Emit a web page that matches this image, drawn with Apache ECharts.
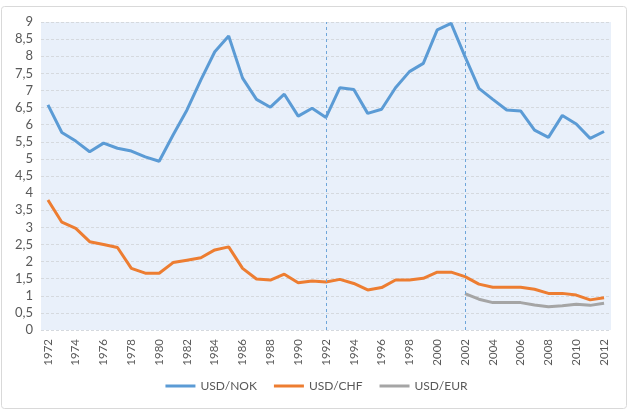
<!DOCTYPE html>
<html>
<head>
<meta charset="utf-8">
<script src="https://cdn.jsdelivr.net/npm/echarts@6/dist/echarts.min.js"></script>
<style>
html,body{margin:0;padding:0;background:#fff;}
#c{width:633px;height:410px;}
</style>
</head>
<body>
<div id="c"></div>
<script>
var years = [];
for (var y = 1972; y <= 2012; y++) years.push(String(y));

var usdNok = [6.58,5.77,5.52,5.21,5.46,5.31,5.23,5.06,4.93,5.70,6.43,7.31,8.13,8.59,7.36,6.74,6.51,6.89,6.25,6.48,6.21,7.08,7.03,6.33,6.45,7.08,7.55,7.79,8.77,8.96,7.99,7.06,6.74,6.43,6.40,5.84,5.63,6.27,6.02,5.60,5.80];
var usdChf = [3.80,3.15,2.97,2.58,2.50,2.41,1.80,1.66,1.66,1.97,2.04,2.11,2.34,2.43,1.80,1.49,1.46,1.63,1.38,1.43,1.40,1.48,1.36,1.17,1.24,1.46,1.46,1.51,1.69,1.69,1.56,1.34,1.25,1.25,1.25,1.19,1.07,1.07,1.02,0.88,0.94];
var usdEur = [null,null,null,null,null,null,null,null,null,null,null,null,null,null,null,null,null,null,null,null,null,null,null,null,null,null,null,null,null,null,1.06,0.90,0.80,0.80,0.80,0.73,0.68,0.71,0.75,0.72,0.78];
var seriesNames = ['USD/NOK','USD/CHF','USD/EUR'];
var markYears = ['1992','2002'];

var chart = echarts.init(document.getElementById('c'), null, {renderer:'canvas'});
var font = 'Lato, "Open Sans", sans-serif';
function lineSeries(name, data, color, extra) {
  var s = {
    name: name, type: 'line', data: data, symbol: 'none',
    lineStyle: {color: color, width: 3}, itemStyle: {color: color},
    connectNulls: false, animation: false
  };
  if (extra) for (var k in extra) s[k] = extra[k];
  return s;
}
chart.setOption({
  animation: false,
  textStyle: {fontFamily: font},
  graphic: [{
    type: 'rect', shape: {x: 1.5, y: 6.5, width: 625, height: 402, r: 3},
    style: {fill: 'none', stroke: '#d9d9d9', lineWidth: 1}, silent: true, z: -10
  }],
  grid: {left: 41, right: 22, top: 22, bottom: 80, show: true,
    backgroundColor: '#E9F0FA', borderWidth: 0},
  legend: {
    bottom: 13, left: 'center', itemWidth: 30, itemHeight: 3, itemGap: 17,
    icon: 'rect',
    textStyle: {color: '#595959', fontSize: 12, fontFamily: font},
    data: seriesNames
  },
  xAxis: {
    type: 'category', data: years, boundaryGap: true,
    axisLine: {show: false}, axisTick: {show: false},
    axisLabel: {rotate: 90, interval: 1, color: '#595959', fontSize: 11.5, fontFamily: font, margin: 9},
    splitLine: {show: false}
  },
  yAxis: {
    type: 'value', min: 0, max: 9, interval: 0.5,
    axisLine: {show: false}, axisTick: {show: false},
    axisLabel: {color: '#595959', fontSize: 13, fontFamily: font, margin: 8,
      formatter: function (v) { return String(v).replace('.', ','); }},
    splitLine: {lineStyle: {color: '#d5d9de', type: [3, 2], width: 1}}
  },
  series: [
    lineSeries(seriesNames[0], usdNok, '#5B9BD5', {
      markLine: {
        symbol: 'none', silent: true, label: {show: false},
        lineStyle: {color: '#6FA6DA', type: [3, 3], width: 1},
        data: markYears.map(function (y) { return {xAxis: y}; })
      }
    }),
    lineSeries(seriesNames[1], usdChf, '#ED7D31'),
    lineSeries(seriesNames[2], usdEur, '#A5A5A5')
  ]
});
</script>
</body>
</html>
